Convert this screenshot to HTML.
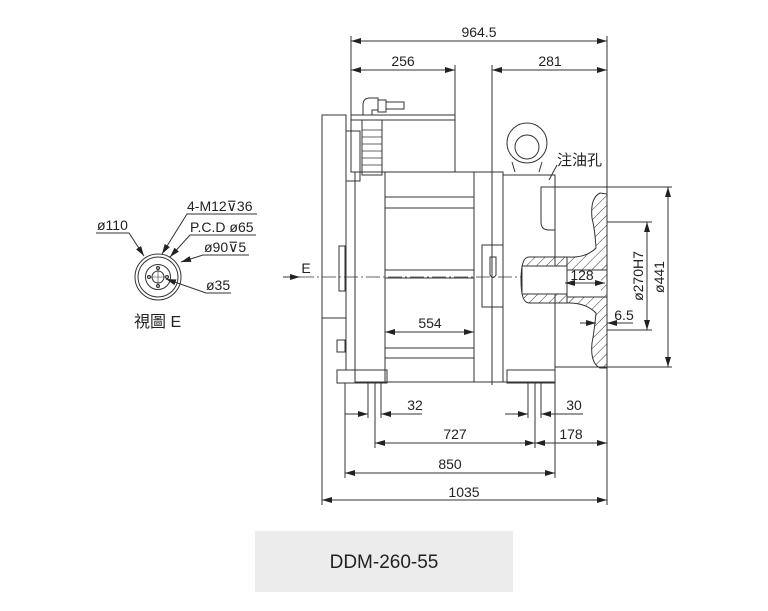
<!DOCTYPE html>
<html><head><meta charset="utf-8"><style>
html,body{margin:0;padding:0;background:#fff;width:768px;height:611px;overflow:hidden}
svg{display:block}
text{font-family:"Liberation Sans","Noto Sans CJK TC",sans-serif;fill:#222}
</style></head><body>
<svg width="768" height="611" viewBox="0 0 768 611" xmlns="http://www.w3.org/2000/svg">
<defs>
<marker id="a" viewBox="0 0 10 6" refX="10" refY="3" markerWidth="10" markerHeight="6" orient="auto-start-reverse" markerUnits="userSpaceOnUse"><path d="M0,0 L10,3 L0,6z" fill="#222"/></marker>
<pattern id="h" width="7" height="7" patternUnits="userSpaceOnUse" patternTransform="rotate(45)"><line x1="0" y1="0" x2="0" y2="7" stroke="#333" stroke-width="1"/></pattern>
</defs>
<g stroke="#333" stroke-width="1" fill="none">
<line x1="351" y1="36" x2="351" y2="115"/>
<line x1="455" y1="65" x2="455" y2="115"/>
<line x1="492" y1="65" x2="492" y2="385"/>
<line x1="607" y1="36" x2="607" y2="505"/>
<line x1="322" y1="318" x2="322" y2="505"/>
<line x1="345" y1="383" x2="345" y2="478"/>
<line x1="368" y1="383" x2="368" y2="418"/>
<line x1="375" y1="383" x2="375" y2="448"/>
<line x1="381" y1="383" x2="381" y2="418"/>
<line x1="528" y1="383" x2="528" y2="418"/>
<line x1="535" y1="383" x2="535" y2="448"/>
<line x1="541" y1="383" x2="541" y2="418"/>
<line x1="555" y1="383" x2="555" y2="478"/>
<line x1="555" y1="187" x2="672" y2="187"/>
<line x1="555" y1="367" x2="672" y2="367"/>
<line x1="607" y1="222" x2="652" y2="222"/>
<line x1="607" y1="330" x2="652" y2="330"/>
<line x1="351" y1="41" x2="607" y2="41" marker-start="url(#a)" marker-end="url(#a)"/>
<line x1="351" y1="70" x2="455" y2="70" marker-start="url(#a)" marker-end="url(#a)"/>
<line x1="492" y1="70" x2="607" y2="70" marker-start="url(#a)" marker-end="url(#a)"/>
<line x1="345" y1="414" x2="368" y2="414" marker-end="url(#a)"/>
<line x1="422" y1="414" x2="381" y2="414" marker-end="url(#a)"/>
<line x1="505" y1="414" x2="528" y2="414" marker-end="url(#a)"/>
<line x1="583" y1="414" x2="541" y2="414" marker-end="url(#a)"/>
<line x1="375" y1="443" x2="535" y2="443" marker-start="url(#a)" marker-end="url(#a)"/>
<line x1="535" y1="443" x2="607" y2="443" marker-start="url(#a)" marker-end="url(#a)"/>
<line x1="345" y1="473" x2="555" y2="473" marker-start="url(#a)" marker-end="url(#a)"/>
<line x1="322" y1="500" x2="607" y2="500" marker-start="url(#a)" marker-end="url(#a)"/>
<line x1="668" y1="187" x2="668" y2="367" marker-start="url(#a)" marker-end="url(#a)"/>
<line x1="647" y1="222" x2="647" y2="330" marker-start="url(#a)" marker-end="url(#a)"/>
<line x1="385" y1="332" x2="474" y2="332" marker-start="url(#a)" marker-end="url(#a)"/>
<line x1="283" y1="277" x2="300" y2="277" marker-end="url(#a)"/>
<line x1="300" y1="277" x2="600" y2="277" stroke-dasharray="14 3 2 3" stroke-width="0.7"/>
<rect x="322" y="115" width="24" height="203"/>
<rect x="346" y="131" width="14" height="50"/>
<rect x="346" y="181" width="9" height="189"/>
<rect x="339" y="246" width="6" height="45"/>
<rect x="337" y="340" width="8" height="12"/>
<rect x="351" y="115" width="104" height="57"/>
<line x1="351" y1="120" x2="455" y2="120"/>
<rect x="362" y="120" width="20" height="55"/>
<g stroke-width="0.7"><line x1="362" y1="130" x2="382" y2="130"/><line x1="362" y1="137" x2="382" y2="137"/><line x1="362" y1="144" x2="382" y2="144"/><line x1="362" y1="151" x2="382" y2="151"/><line x1="362" y1="158" x2="382" y2="158"/><line x1="362" y1="165" x2="382" y2="165"/></g>
<path d="M363 115 v-10 q0 -7 7 -7 h8 v12 h-6 v5"/>
<rect x="378" y="100" width="8" height="12"/>
<rect x="386" y="102" width="18" height="7"/>
<rect x="355" y="172" width="30" height="210"/>
<rect x="385" y="172" width="89" height="210"/>
<rect x="474" y="172" width="29" height="210"/>
<rect x="503" y="175" width="52" height="207"/>
<line x1="385" y1="197" x2="474" y2="197"/><line x1="385" y1="208" x2="474" y2="208"/>
<line x1="385" y1="270" x2="474" y2="270"/><line x1="385" y1="278" x2="474" y2="278"/>
<line x1="385" y1="348" x2="474" y2="348"/><line x1="385" y1="358" x2="474" y2="358"/>
<rect x="482" y="245" width="21" height="62"/>
<path d="M490 257 v18 q3 5 6 0 v-18z"/>
<rect x="337" y="370" width="50" height="13"/>
<rect x="507" y="370" width="48" height="13"/>
<circle cx="527" cy="145" r="17" stroke-width="6" stroke="#fff"/>
<circle cx="527" cy="143" r="20"/>
<circle cx="527" cy="147" r="12"/>
<line x1="512" y1="162" x2="515" y2="172"/><line x1="542" y1="162" x2="539" y2="172"/>
<path d="M541 187 v35 q0 8 8 8 h6 v-43z"/>
<line x1="549" y1="180" x2="557" y2="165"/>
<path d="M600 193 q-10 5 -8 25 q3 12 4 30 q-10 10 -27 9 h-40 q-8 0 -8 23 q0 23 8 23 h40 q17 0 27 10 q-2 20 -4 30 q-2 20 8 25 h7 v-174z" fill="url(#h)"/>
<rect x="522" y="266" width="45" height="28" fill="#fff"/>
<rect x="567" y="270" width="34" height="27" fill="#fff" stroke="none"/>
<line x1="567" y1="257" x2="567" y2="303"/>
<line x1="567" y1="270" x2="607" y2="270"/><line x1="567" y1="297" x2="607" y2="297"/>
<line x1="565" y1="283" x2="605" y2="283" marker-start="url(#a)" marker-end="url(#a)"/>
<line x1="580" y1="323" x2="596" y2="323" marker-end="url(#a)"/>
<line x1="633" y1="323" x2="607" y2="323" marker-end="url(#a)"/>
</g>
<g stroke="#333" stroke-width="1" fill="none">
<circle cx="158" cy="277" r="23"/><circle cx="158" cy="277" r="20"/><circle cx="158" cy="277" r="12.5"/><circle cx="158" cy="277" r="6"/>
<circle cx="158" cy="268" r="1.5"/><circle cx="158" cy="286" r="1.5"/><circle cx="149" cy="277" r="1.5"/><circle cx="167" cy="277" r="1.5"/>
<line x1="148" y1="277" x2="168" y2="277" stroke-width="0.6"/><line x1="158" y1="267" x2="158" y2="287" stroke-width="0.6"/>
<path d="M96 233 h33 L144 256" marker-end="url(#a)"/>
<path d="M257 214 h-70 L162 254" marker-end="url(#a)"/>
<path d="M256 235 h-66 L170 257" marker-end="url(#a)"/>
<path d="M249 255 h-46 L181 262" marker-end="url(#a)"/>
<path d="M231 293 h-25 L166 279" marker-end="url(#a)"/>
</g>
<g font-size="14">
<text x="479" y="37" text-anchor="middle">964.5</text>
<text x="403" y="66" text-anchor="middle">256</text>
<text x="550" y="66" text-anchor="middle">281</text>
<text x="415" y="410" text-anchor="middle">32</text>
<text x="574" y="410" text-anchor="middle">30</text>
<text x="455" y="439" text-anchor="middle">727</text>
<text x="571" y="439" text-anchor="middle">178</text>
<text x="450" y="469" text-anchor="middle">850</text>
<text x="464" y="497" text-anchor="middle">1035</text>
<text x="430" y="328" text-anchor="middle">554</text>
<text x="582" y="280" text-anchor="middle">128</text>
<text x="624" y="320" text-anchor="middle">6.5</text>
<text x="306" y="273" text-anchor="middle">E</text>
<text transform="translate(643 276) rotate(-90)" text-anchor="middle">ø270H7</text>
<text transform="translate(664 277) rotate(-90)" text-anchor="middle">ø441</text>
<text x="557" y="165" font-size="15">注油孔</text>
<text x="97" y="230">ø110</text>
<text x="187" y="211">4-M12⊽36</text>
<text x="190" y="232">P.C.D ø65</text>
<text x="204" y="252">ø90⊽5</text>
<text x="206" y="290">ø35</text>
<text x="134" y="327" font-size="16">視圖  E</text>
</g>
<rect x="255" y="531" width="258" height="61" fill="#ececec"/>
<text x="384" y="568" font-size="19" text-anchor="middle" fill="#333">DDM-260-55</text>
</svg>
</body></html>
